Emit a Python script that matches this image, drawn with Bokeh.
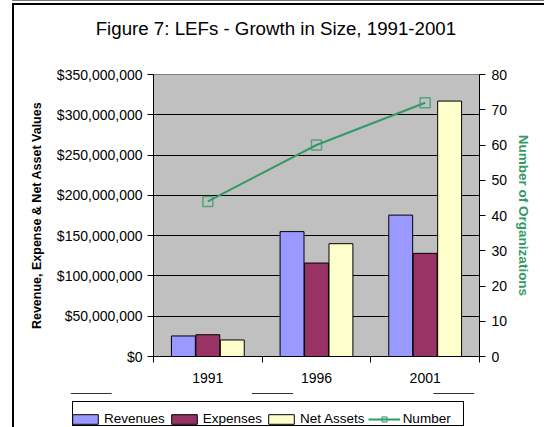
import numpy as np
from bokeh.plotting import figure
from bokeh.layouts import column
from bokeh.models import (Range1d, LinearAxis, FixedTicker, NumeralTickFormatter,
                          Legend, LegendItem, Label)
from bokeh.embed import file_html
from bokeh.resources import INLINE

# ---- data ----
years = ["1991", "1996", "2001"]
revenues = [25_500_000, 155_000_000, 175_500_000]
expenses = [27_000_000, 116_000_000, 128_000_000]
net_assets = [20_500_000, 140_000_000, 317_000_000]
number = [44, 60, 72]
left_ticks = list(range(0, 350_000_001, 50_000_000))
right_ticks = list(range(0, 81, 10))
title_text = "Figure 7:  LEFs - Growth in Size, 1991-2001"

FONT = "Liberation Sans"
GREEN = "#339966"
C_REV, C_EXP, C_NET = "#9999FF", "#993366", "#FFFFCC"

xc = np.arange(len(years)) + 0.5


def strip(height):
    # helper strip figure: its y range lies below all data, so no series shows
    f = figure(width=544, height=height, x_range=Range1d(0, len(years)),
               y_range=Range1d(-700_000_000, -350_000_000), output_backend="svg",
               toolbar_location=None, min_border=0,
               x_axis_location=None, y_axis_location=None)
    f.grid.visible = False
    f.outline_line_color = None
    f.background_fill_color = None
    f.border_fill_color = None
    return f


# ---- title strip ----
t = strip(44)
t.add_layout(Label(x=278, y=16, x_units="screen", y_units="screen", text=title_text,
                   text_align="center", text_baseline="alphabetic",
                   text_font=FONT, text_font_size="18.7px", text_color="black"))

# ---- main chart ----
p = figure(width=544, height=349, x_range=Range1d(0, len(years)),
           y_range=Range1d(0, 350_000_000), output_backend="svg",
           toolbar_location=None, min_border_left=153, min_border_right=65,
           min_border_top=30, min_border_bottom=37)
p.background_fill_color = "#C0C0C0"
p.border_fill_color = None
p.outline_line_color = "#808080"
p.outline_line_width = 1
p.xgrid.visible = False
p.ygrid.grid_line_color = "black"
p.ygrid.grid_line_width = 1

r_rev = p.vbar(x=xc - 0.225, top=revenues, width=0.22, fill_color=C_REV, line_color="black")
r_exp = p.vbar(x=xc, top=expenses, width=0.22, fill_color=C_EXP, line_color="black")
r_net = p.vbar(x=xc + 0.225, top=net_assets, width=0.22, fill_color=C_NET, line_color="black")

p.extra_y_ranges = {"num": Range1d(0, 80)}
r_line = p.line(xc, number, y_range_name="num", line_color=GREEN, line_width=2)
r_sq = p.scatter(xc, number, y_range_name="num", marker="square", size=10,
                 fill_color=None, line_color=GREEN, line_width=1.5, line_alpha=0.75)

ya = p.yaxis[0]
ya.ticker = FixedTicker(ticks=left_ticks, minor_ticks=[])
ya.formatter = NumeralTickFormatter(format="$0,0")
ya.major_tick_in = 0
ya.major_tick_out = 6
ya.minor_tick_line_color = None
ya.axis_line_color = "black"
ya.major_label_text_font = FONT
ya.major_label_text_font_size = "14px"
ya.major_label_text_color = "black"
ya.major_label_standoff = 5
ya.axis_label = "Revenue, Expense & Net Asset Values"
ya.axis_label_text_font = FONT
ya.axis_label_text_font_size = "12.5px"
ya.axis_label_text_font_style = "bold"
ya.axis_label_text_color = "black"
ya.axis_label_standoff = 10

xa = p.xaxis[0]
xa.ticker = FixedTicker(ticks=list(xc), minor_ticks=list(range(len(years) + 1)))
xa.major_label_overrides = {float(x): y for x, y in zip(xc, years)}
xa.major_tick_in = 0
xa.major_tick_out = 0
xa.minor_tick_in = 0
xa.minor_tick_out = 6
xa.minor_tick_line_color = "black"
xa.axis_line_color = "black"
xa.major_label_text_font = FONT
xa.major_label_text_font_size = "14px"
xa.major_label_text_color = "black"
xa.major_label_standoff = 10

ra = LinearAxis(y_range_name="num", ticker=FixedTicker(ticks=right_ticks, minor_ticks=[]),
                axis_label="Number of Organizations")
ra.major_tick_in = 0
ra.major_tick_out = 6
ra.minor_tick_line_color = None
ra.axis_line_color = "black"
ra.major_label_text_font = FONT
ra.major_label_text_font_size = "14px"
ra.major_label_text_color = "black"
ra.major_label_standoff = 6
ra.axis_label_text_font = FONT
ra.axis_label_text_font_size = "13.5px"
ra.axis_label_text_font_style = "bold"
ra.axis_label_text_color = GREEN
ra.axis_label_standoff = 6
p.add_layout(ra, "right")

# ---- legend strip ----
q = strip(34)
l_rev = q.vbar(x=xc, top=revenues, width=0.22, fill_color=C_REV, line_color="black")
l_exp = q.vbar(x=xc, top=expenses, width=0.22, fill_color=C_EXP, line_color="black")
l_net = q.vbar(x=xc, top=net_assets, width=0.22, fill_color=C_NET, line_color="black")
l_line = q.line(x=xc, y=number, line_color=GREEN, line_width=2)
l_sq = q.scatter(x=xc, y=number, marker="square", size=8, fill_color=None,
                 line_color=GREEN, line_width=1.5, line_alpha=0.75)

legend = Legend(items=[
    LegendItem(label="Revenues", renderers=[l_rev]),
    LegendItem(label="Expenses", renderers=[l_exp]),
    LegendItem(label="Net Assets", renderers=[l_net]),
    LegendItem(label="Number", renderers=[l_line, l_sq]),
], location=(69, 1), orientation="horizontal")
legend.border_line_color = None
legend.background_fill_alpha = 0
legend.padding = 4
legend.margin = 0
legend.spacing = 3
legend.label_standoff = 3
legend.glyph_width = 32
legend.glyph_height = 12
legend.label_height = 12
legend.label_text_font = FONT
legend.label_text_font_size = "13.5px"
legend.label_text_color = "black"
q.add_layout(legend)

for fig in (t, p, q):
    if "frame_align" in fig.properties():
        fig.frame_align = False

layout = column(t, p, q, spacing=0)
# outer chart frame lines and the legend box outline
layout.styles = {
    "background": ("linear-gradient(#000, #000) 12px 4px / 2px 100% no-repeat, "
                   "linear-gradient(#000, #000) 12px 3px / 100% 2px no-repeat, "
                   "linear-gradient(#777, #777) 12px 0px / 100% 1px no-repeat, "
                   "linear-gradient(#000, #000) 72px 401px / 392px 1px no-repeat, "
                   "linear-gradient(#000, #000) 72px 425px / 392px 1px no-repeat, "
                   "linear-gradient(#000, #000) 72px 401px / 1px 25px no-repeat, "
                   "linear-gradient(#000, #000) 463px 401px / 1px 25px no-repeat, "
                   "#ffffff"),
}

open("out.html", "w").write(file_html(layout, INLINE))
